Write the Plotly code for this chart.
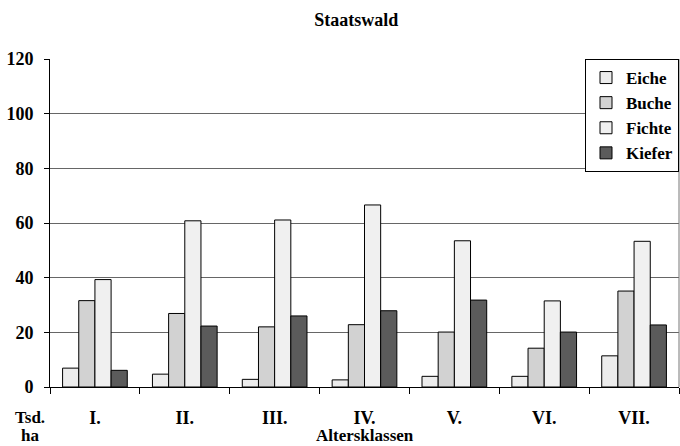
import plotly.graph_objects as go

categories = ["I.", "II.", "III.", "IV.", "V.", "VI.", "VII."]
eiche = [6.9, 4.7, 2.8, 2.6, 3.9, 3.9, 11.4]
buche = [31.6, 26.9, 22.0, 22.8, 20.1, 14.2, 35.1]
fichte = [39.3, 60.8, 61.1, 66.6, 53.5, 31.5, 53.3]
kiefer = [6.1, 22.3, 26.0, 27.9, 31.8, 20.1, 22.7]
series_names = ["Eiche", "Buche", "Fichte", "Kiefer"]
series_colors = ["#ececec", "#d2d2d2", "#f0f0f0", "#5b5b5b"]
y_ticks = [0, 20, 40, 60, 80, 100, 120]

FONT = "Liberation Serif"

fig = go.Figure()
for name, vals, col in zip(series_names, [eiche, buche, fichte, kiefer], series_colors):
    fig.add_trace(go.Bar(
        x=categories, y=vals, name=name,
        marker=dict(color=col, line=dict(color="black", width=1)),
    ))

fig.update_layout(
    width=680, height=446,
    margin=dict(l=50, r=1, t=59, b=59),
    paper_bgcolor="white", plot_bgcolor="white",
    barmode="group", bargap=0.28, bargroupgap=0,
    font=dict(family=FONT, color="black"),
    title=dict(text="Staatswald", x=0.524, xanchor="center", y=0.955, yanchor="middle",
               font=dict(family=FONT, size=18, color="black", weight="bold")),
    showlegend=True,
    legend=dict(x=1, xanchor="right", y=1, yanchor="top",
                bordercolor="black", borderwidth=1, bgcolor="white",
                font=dict(family=FONT, size=17, color="black", weight="bold"),
                itemwidth=30, tracegroupgap=0),
    xaxis=dict(
        showline=True, linecolor="black", linewidth=1,
        ticks="outside", tickson="boundaries", ticklen=6, tickcolor="black",
        tickfont=dict(family=FONT, size=18, color="black", weight="bold"),
        ticklabelstandoff=14,
        showgrid=False, mirror=False,
    ),
    yaxis=dict(
        range=[0, 120], tickvals=y_ticks,
        showline=True, linecolor="black", linewidth=1,
        ticks="outside", ticklen=5, tickcolor="black",
        tickfont=dict(family=FONT, size=18, color="black", weight="bold"),
        ticklabelstandoff=7,
        showgrid=True, gridcolor="#666666", gridwidth=1,
        zeroline=False,
    ),
)

# right border of plot area
fig.add_shape(type="line", xref="paper", yref="paper", x0=1, x1=1, y0=0, y1=1,
              line=dict(color="#777777", width=1))

ann_font = dict(family=FONT, size=17, color="black", weight="bold")
fig.add_annotation(text="Tsd.", xref="paper", yref="paper", x=-0.032, y=-0.0945,
                   xanchor="center", yanchor="middle", showarrow=False, font=ann_font)
fig.add_annotation(text="ha", xref="paper", yref="paper", x=-0.032, y=-0.149,
                   xanchor="center", yanchor="middle", showarrow=False, font=ann_font)
fig.add_annotation(text="Altersklassen", xref="paper", yref="paper", x=0.5, y=-0.149,
                   xanchor="center", yanchor="middle", showarrow=False,
                   font=dict(family=FONT, size=17, color="black", weight="bold"))

fig.write_html("out.html", config={"displayModeBar": False},
               post_script="document.body.style.margin='0';")
